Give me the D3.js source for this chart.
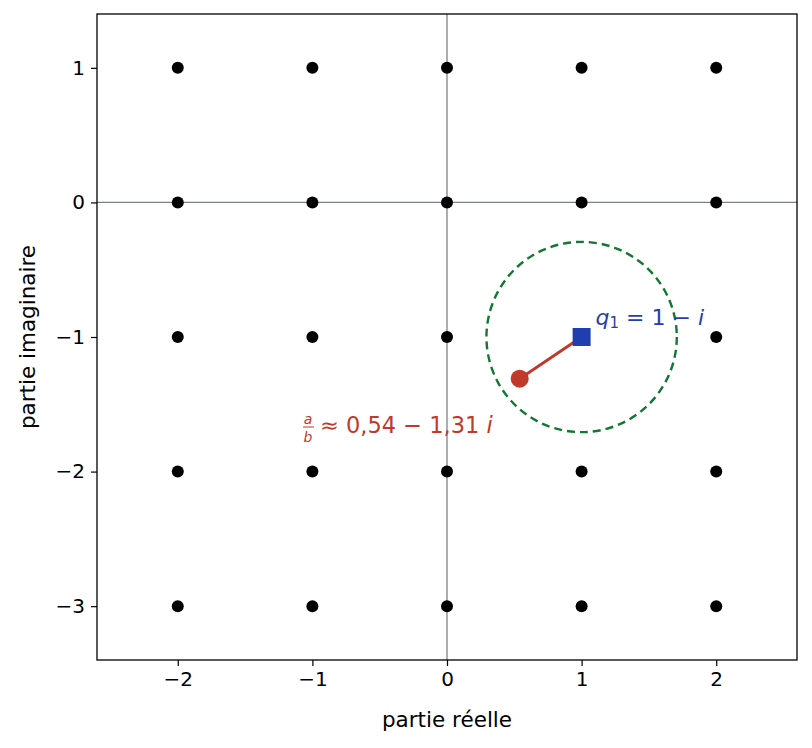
<!DOCTYPE html>
<html><head><meta charset="utf-8">
<script src="https://cdn.jsdelivr.net/npm/d3@7"></script>
<style>body{margin:0;background:#fff}text{font-family:"DejaVu Sans",sans-serif}</style>
</head><body><svg id="c" width="812" height="748"></svg>
<script>
var latticeX = [-2, -1, 0, 1, 2];
var latticeY = [-3, -2, -1, 0, 1];
var quotient = [0.54, -1.31];
var q1 = [1, -1];
var radius = 0.707;
var xTicks = [-2, -1, 0, 1, 2];
var yTicks = [-3, -2, -1, 0, 1];

var m = {left: 97, top: 14, right: 797, bottom: 660};
var svg = d3.select("#c");
var x = d3.scaleLinear().domain([-2.6, 2.6]).range([m.left, m.right]);
var y = d3.scaleLinear().domain([-3.4, 1.4]).range([m.bottom, m.top]);
var fmt = function(d){ return d < 0 ? "\u2212" + (-d) : d; };

svg.append("line").attr("x1", x(0)).attr("x2", x(0)).attr("y1", m.top).attr("y2", m.bottom).attr("stroke", "#7f7f8a").attr("stroke-width", 1.3);
svg.append("line").attr("x1", m.left).attr("x2", m.right).attr("y1", y(0)).attr("y2", y(0)).attr("stroke", "#7f7f8a").attr("stroke-width", 1.3);

var pts = [];
latticeX.forEach(function(a){ latticeY.forEach(function(b){ if (!(a === q1[0] && b === q1[1])) pts.push([a, b]); }); });
svg.selectAll(".pt").data(pts).enter().append("circle")
  .attr("cx", function(d){ return x(d[0]); }).attr("cy", function(d){ return y(d[1]); })
  .attr("r", 6).attr("fill", "#000");

svg.append("ellipse").attr("cx", x(q1[0])).attr("cy", y(q1[1]))
  .attr("rx", x(radius) - x(0)).attr("ry", y(0) - y(radius))
  .attr("fill", "none").attr("stroke", "#117733").attr("stroke-width", 2.4).attr("stroke-dasharray", "8,5");

svg.append("line").attr("x1", x(quotient[0])).attr("y1", y(quotient[1])).attr("x2", x(q1[0])).attr("y2", y(q1[1]))
  .attr("stroke", "#c0392b").attr("stroke-width", 2.8);
svg.append("rect").attr("x", x(q1[0]) - 9).attr("y", y(q1[1]) - 9).attr("width", 18).attr("height", 18).attr("fill", "#1f3fb0");
svg.append("circle").attr("cx", x(quotient[0])).attr("cy", y(quotient[1])).attr("r", 9).attr("fill", "#c0392b");

var t1 = svg.append("text").attr("x", x(q1[0]) + 14).attr("y", y(q1[1]) - 12).attr("fill", "#1f3fb0").attr("font-size", 22);
t1.append("tspan").attr("font-style", "italic").text("q");
t1.append("tspan").attr("font-size", 15).attr("dy", 3).text("1");
t1.append("tspan").attr("dy", -3).text(" = 1 \u2212 ");
t1.append("tspan").attr("font-style", "italic").text("i");

var g2 = svg.append("g").attr("fill", "#c0392b");
g2.append("text").attr("x", 308).attr("y", 424).attr("font-size", 14).attr("font-style", "italic").attr("text-anchor", "middle").text("a");
g2.append("line").attr("x1", 303).attr("x2", 314).attr("y1", 427).attr("y2", 427).attr("stroke", "#c0392b").attr("stroke-width", 1);
g2.append("text").attr("x", 308).attr("y", 442).attr("font-size", 14).attr("font-style", "italic").attr("text-anchor", "middle").text("b");
var t2 = g2.append("text").attr("x", 320).attr("y", 433).attr("font-size", 22.5);
t2.append("tspan").text("\u2248 0,54 \u2212 1,31 ");
t2.append("tspan").attr("font-style", "italic").text("i");

svg.append("rect").attr("x", m.left).attr("y", m.top).attr("width", m.right - m.left).attr("height", m.bottom - m.top)
  .attr("fill", "none").attr("stroke", "#000").attr("stroke-width", 1.3);

svg.append("g").attr("transform", "translate(0," + m.bottom + ")")
  .call(d3.axisBottom(x).tickValues(xTicks).tickFormat(fmt).tickSize(6).tickPadding(6))
  .call(function(g){ g.select(".domain").remove(); g.selectAll("text").attr("font-size", 20).attr("fill", "#000"); g.selectAll("line").attr("stroke-width", 1.2); });
svg.append("g").attr("transform", "translate(" + m.left + ",0)")
  .call(d3.axisLeft(y).tickValues(yTicks).tickFormat(fmt).tickSize(6).tickPadding(6))
  .call(function(g){ g.select(".domain").remove(); g.selectAll("text").attr("font-size", 20).attr("fill", "#000"); g.selectAll("line").attr("stroke-width", 1.2); });

svg.append("text").attr("x", (m.left + m.right) / 2).attr("y", 727).attr("text-anchor", "middle").attr("font-size", 21.5).text("partie réelle");
svg.append("text").attr("transform", "translate(35," + ((m.top + m.bottom) / 2) + ") rotate(-90)").attr("text-anchor", "middle").attr("font-size", 21.5).text("partie imaginaire");
</script></body></html>
